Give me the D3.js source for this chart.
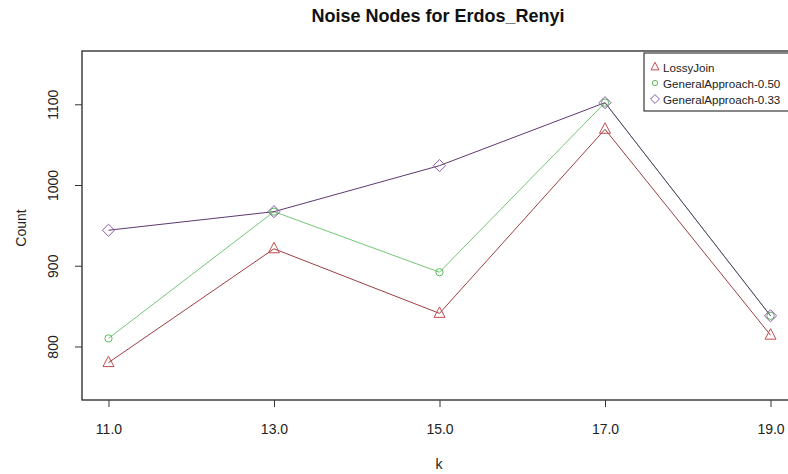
<!DOCTYPE html>
<html><head><meta charset="utf-8">
<script src="https://cdn.jsdelivr.net/npm/d3@7"></script>
<style>body{margin:0;background:#fff}svg{display:block}text{font-family:"Liberation Sans",Arial,sans-serif}</style>
</head><body><svg id="c" width="788" height="474"></svg>
<script>
const kValues = [11, 13, 15, 17, 19];
const xTickLabels = ["11.0", "13.0", "15.0", "17.0", "19.0"];
const yTicks = [800, 900, 1000, 1100];
const lossyJoin = [780, 921, 841, 1069, 814];
const general050 = [810, 967, 892, 1102, 838];
const general033 = [944, 967, 1024, 1102, 838];
const seriesNames = ["LossyJoin", "GeneralApproach-0.50", "GeneralApproach-0.33"];

const svg = d3.select("#c");
const L = 82, R = 797, T = 51, B = 400;
const x = d3.scaleLinear().domain([10.68, 19.32]).range([L, R]);
const y = d3.scaleLinear().domain([733.7, 1166]).range([B, T]);

const series = [
  {name: seriesNames[0], values: lossyJoin, line: "#9a3f44", mark: "#c44a4e", shape: "tri"},
  {name: seriesNames[1], values: general050, line: "#74c674", mark: "#5cbc5c", shape: "circ"},
  {name: seriesNames[2], values: general033, line: "#5e3a70", mark: "#8a58a6", shape: "dia"}
];

function marker(g, shape, cx, cy, color, s) {
  if (shape === "tri") {
    const h = s * 0.95;
    g.append("path").attr("d", `M${cx},${cy - h*0.62}L${cx + s/2},${cy + h*0.38}L${cx - s/2},${cy + h*0.38}Z`)
      .attr("fill", "none").attr("stroke", color).attr("stroke-width", 1);
  } else if (shape === "circ") {
    g.append("circle").attr("cx", cx).attr("cy", cy).attr("r", s * 0.33)
      .attr("fill", "none").attr("stroke", color).attr("stroke-width", 1);
  } else {
    const r = s * 0.55;
    g.append("path").attr("d", `M${cx},${cy - r}L${cx + r},${cy}L${cx},${cy + r}L${cx - r},${cy}Z`)
      .attr("fill", "none").attr("stroke", color).attr("stroke-width", 1);
  }
}

const line = d3.line().x((d, i) => x(kValues[i])).y(d => y(d));
series.forEach(s => {
  svg.append("path").datum(s.values).attr("d", line)
    .attr("fill", "none").attr("stroke", s.line).attr("stroke-width", 1);
});
series.forEach(s => {
  const g = svg.append("g");
  s.values.forEach((v, i) => marker(g, s.shape, x(kValues[i]), y(v), s.mark, 11));
});

// box
svg.append("rect").attr("x", L).attr("y", T).attr("width", R - L).attr("height", B - T)
  .attr("fill", "none").attr("stroke", "#111").attr("stroke-width", 1.2);

// x axis
const xa = svg.append("g").attr("transform", `translate(0,${B})`)
  .call(d3.axisBottom(x).tickValues(kValues).tickFormat((d, i) => xTickLabels[i]).tickSize(7).tickPadding(17));
xa.select(".domain").remove();
xa.selectAll("line").attr("stroke", "#333");
xa.selectAll("text").attr("font-size", 14).attr("fill", "#222");

// y axis
const ya = svg.append("g").attr("transform", `translate(${L},0)`)
  .call(d3.axisLeft(y).tickValues(yTicks).tickSize(7).tickFormat(d3.format("d")));
ya.select(".domain").remove();
ya.selectAll("line").attr("stroke", "#333");
ya.selectAll("text").remove();
ya.selectAll(".tick").append("text")
  .attr("transform", "translate(-24,0) rotate(-90)")
  .attr("text-anchor", "middle").attr("font-size", 14).attr("fill", "#222")
  .text(d => d3.format("d")(d));

// labels
svg.append("text").attr("x", 438).attr("y", 22).attr("text-anchor", "middle")
  .attr("font-size", 18).attr("font-weight", "bold").attr("fill", "#111").text("Noise Nodes for Erdos_Renyi");
svg.append("text").attr("x", 439).attr("y", 469).attr("text-anchor", "middle")
  .attr("font-size", 14).attr("fill", "#222").text("k");
svg.append("text").attr("transform", "translate(26,228) rotate(-90)").attr("text-anchor", "middle")
  .attr("font-size", 14).attr("fill", "#222").text("Count");

// legend
const lg = svg.append("g");
lg.append("rect").attr("x", 644).attr("y", 53).attr("width", 160).attr("height", 58)
  .attr("fill", "#fff").attr("stroke", "#111").attr("stroke-width", 1);
series.forEach((s, i) => {
  const cy = 67 + i * 16;
  marker(lg, s.shape, 655, cy, s.mark, 8);
  lg.append("text").attr("x", 663).attr("y", cy + 4.5).attr("font-size", 11.6).attr("fill", "#222").text(s.name);
});
</script></body></html>
